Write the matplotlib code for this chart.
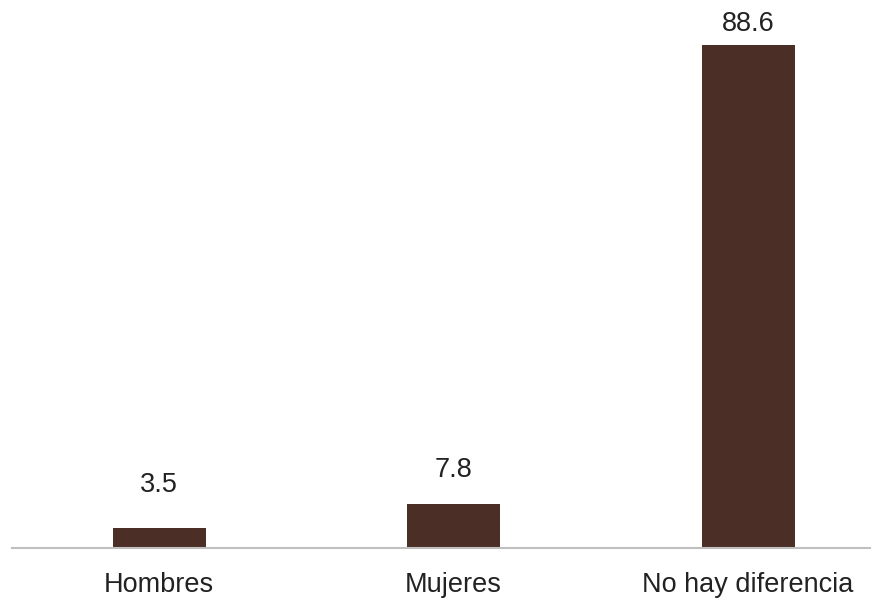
import matplotlib
matplotlib.use("Agg")
import matplotlib.pyplot as plt

categories = ["Hombres", "Mujeres", "No hay diferencia"]
values = [3.5, 7.8, 88.6]
value_labels = ["3.5", "7.8", "88.6"]

# style: label offsets above bar tops (points)
label_offsets = [31, 24, 15]

plt.rcParams['font.family'] = ['Liberation Sans', 'DejaVu Sans']

fig = plt.figure(figsize=(8.76, 6.00), dpi=100)
ax = fig.add_axes([12/876, 52/600, 858/876, 548/600])

x = list(range(len(categories)))
bars = ax.bar(x, values, width=0.316, color="#4B2E26", zorder=2)

for xi, v, lab, off in zip(x, values, value_labels, label_offsets):
    ax.annotate(lab, (xi, v), xytext=(0, off), textcoords="offset points",
                ha="center", va="center", fontsize=19.5, color="#222222")

ax.set_xlim(-0.5, 2.414)
ax.set_ylim(0, 96.5)
ax.set_xticks(x)
ax.set_xticklabels(categories, fontsize=19.5, color="#222222")
ax.tick_params(axis="x", length=0, pad=17)
ax.set_yticks([])
for s in ["top", "right", "left"]:
    ax.spines[s].set_visible(False)
ax.spines["bottom"].set_color("#BFBFBF")
ax.spines["bottom"].set_linewidth(1.5)

fig.savefig("out.png", dpi=100)
